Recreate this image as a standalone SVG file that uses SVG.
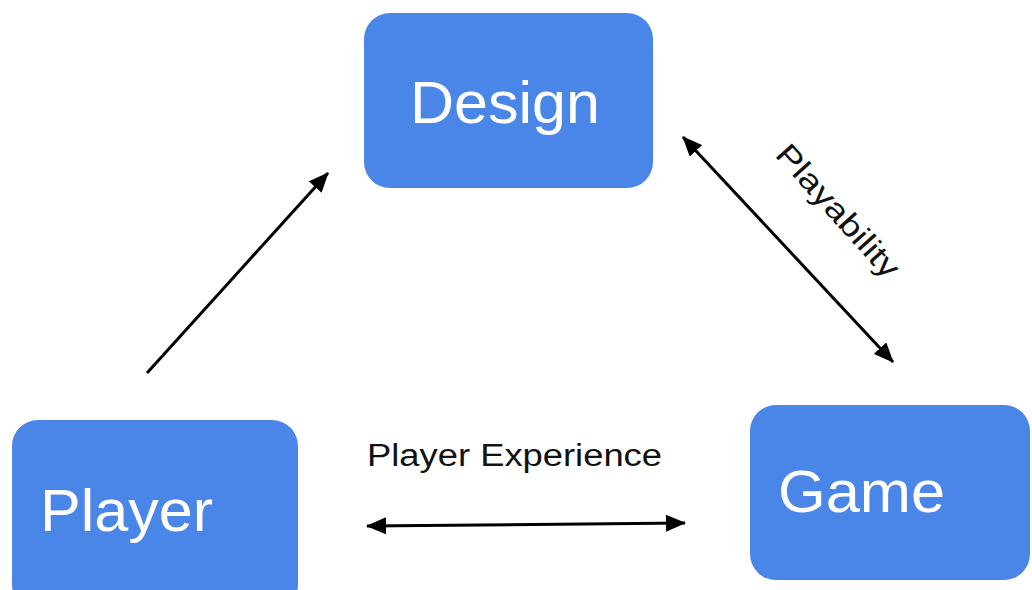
<svg xmlns="http://www.w3.org/2000/svg" width="1032" height="590" viewBox="0 0 1032 590">
  <style>
    .box { fill: #4a86e8; }
    .node-label { fill: #ffffff; font-family: "Liberation Sans", Arial, sans-serif; font-size: 60px; }
    .edge { stroke: #000000; stroke-width: 3; fill: none; }
    .edge-label { fill: #111111; font-family: "Liberation Sans", Arial, sans-serif; font-size: 31px; }
  </style>
  <defs>
    <marker id="head" viewBox="0 0 20 17" refX="19" refY="8.5" markerWidth="20" markerHeight="17" markerUnits="userSpaceOnUse" orient="auto-start-reverse">
      <path d="M0,0 L20,8.5 L0,17 Z" fill="#000000"/>
    </marker>
  </defs>
  <rect width="1032" height="590" fill="#ffffff"/>

  <g id="design">
    <rect class="box" x="364" y="13" width="289" height="175" rx="26"/>
    <text class="node-label" x="410" y="123" textLength="190" lengthAdjust="spacingAndGlyphs">Design</text>
  </g>

  <g id="player">
    <rect class="box" x="12" y="420" width="286" height="190" rx="26"/>
    <text class="node-label" x="40" y="531" textLength="173" lengthAdjust="spacingAndGlyphs">Player</text>
  </g>

  <g id="game">
    <rect class="box" x="750" y="405" width="280" height="175" rx="26"/>
    <text class="node-label" x="778" y="512" textLength="167" lengthAdjust="spacingAndGlyphs">Game</text>
  </g>

  <g id="connectors">
    <line class="edge" x1="147" y1="373" x2="328" y2="173" marker-end="url(#head)"/>
    <line class="edge" x1="683" y1="137" x2="893" y2="362" marker-start="url(#head)" marker-end="url(#head)"/>
    <line class="edge" x1="367" y1="526" x2="685" y2="523" marker-start="url(#head)" marker-end="url(#head)"/>
    <text class="edge-label" x="367" y="466" textLength="295" lengthAdjust="spacingAndGlyphs">Player Experience</text>
    <text class="edge-label" x="0" y="0" text-anchor="middle" dominant-baseline="central" textLength="168" lengthAdjust="spacingAndGlyphs" transform="translate(838 211) rotate(48)">Playability</text>
  </g>
</svg>
